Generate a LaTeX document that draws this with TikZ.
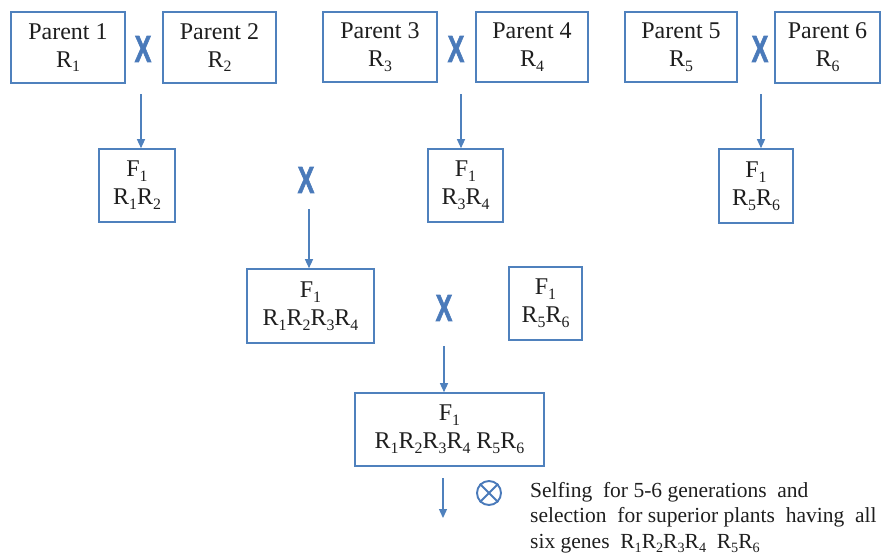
\documentclass[tikz,border=0pt]{standalone}
\usepackage{fontspec}
\setmainfont{Liberation Serif}
\newfontfamily\crossfont[FakeBold=2]{Liberation Sans Bold}
\usetikzlibrary{arrows.meta}
\definecolor{lineblue}{RGB}{79,129,189}
\definecolor{crossblue}{RGB}{74,122,186}
\definecolor{inkgray}{RGB}{30,30,30}
% lowered, reduced digit for gene and generation labels
\newcommand\sbs[1]{\raisebox{-0.2em}{\scalebox{0.66}{#1}}}
\tikzset{
  box/.style={draw=lineblue, line width=1.6pt, rectangle, align=center,
    inner sep=0pt, text=inkgray, font=\fontsize{24}{28}\selectfont},
  crossmark/.style={text=crossblue, inner sep=0pt, yscale=1.5,
    font=\fontsize{25}{25}\crossfont},
  arr/.style={draw=lineblue, line width=1.3pt,
    -{Triangle[length=9pt,width=8pt]}},
}
\begin{document}
\begin{tikzpicture}[x=1pt,y=-1pt]
\useasboundingbox (0,0) rectangle (882,557);

% parents
\node[box, minimum width=114pt, minimum height=71pt] (p1) at (68,47.5) {Parent 1\\R\sbs{1}};
\node[box, minimum width=113pt, minimum height=71pt] (p2) at (219.5,47.5) {Parent 2\\R\sbs{2}};
\node[box, minimum width=114pt, minimum height=70pt] (p3) at (380,47) {Parent 3\\R\sbs{3}};
\node[box, minimum width=112pt, minimum height=70pt] (p4) at (532,47) {Parent 4\\R\sbs{4}};
\node[box, minimum width=112pt, minimum height=70pt] (p5) at (681,47) {Parent 5\\R\sbs{5}};
\node[box, minimum width=105pt, minimum height=71pt] (p6) at (827.5,47.5) {Parent 6\\R\sbs{6}};

% crosses between parents
\node[crossmark] (x1) at (143,49) {X};
\node[crossmark] (x2) at (456,49) {X};
\node[crossmark] (x3) at (760,49) {X};

% first F1 generation
\node[box, minimum width=76pt, minimum height=73pt] (f12) at (137,185.5) {F\sbs{1}\\R\sbs{1}R\sbs{2}};
\node[box, minimum width=75pt, minimum height=73pt] (f34) at (465.5,185.5) {F\sbs{1}\\R\sbs{3}R\sbs{4}};
\node[box, minimum width=74pt, minimum height=74pt] (f56) at (756,186) {F\sbs{1}\\R\sbs{5}R\sbs{6}};
\node[crossmark] (x4) at (306,180) {X};

% second F1 generation
\node[box, minimum width=127pt, minimum height=74pt] (f1234) at (310.5,306) {F\sbs{1}\\R\sbs{1}R\sbs{2}R\sbs{3}R\sbs{4}};
\node[box, minimum width=73pt, minimum height=73pt] (f56b) at (545.5,303.5) {F\sbs{1}\\R\sbs{5}R\sbs{6}};
\node[crossmark] (x5) at (444,308) {X};

% final F1
\node[box, minimum width=189pt, minimum height=73pt] (fall) at (449.5,429.5) {F\sbs{1}\\R\sbs{1}R\sbs{2}R\sbs{3}R\sbs{4} R\sbs{5}R\sbs{6}};

% arrow start points
\coordinate (s1) at (141,94);
\coordinate (s2) at (461,94);
\coordinate (s3) at (761,94);
\coordinate (s4) at (309,209);
\coordinate (s5) at (444,346);
\coordinate (s6) at (443,478);
\coordinate (e6) at (443,518);

\draw[arr] (s1) -- (s1 |- f12.north);
\draw[arr] (s2) -- (s2 |- f34.north);
\draw[arr] (s3) -- (s3 |- f56.north);
\draw[arr] (s4) -- (s4 |- f1234.north);
\draw[arr] (s5) -- (s5 |- fall.north);
\draw[arr] (s6) -- (e6);

% selfing symbol
\node[circle, draw=crossblue, line width=1.9pt, minimum size=24pt, inner sep=0pt] (self) at (489,493) {};
\draw[crossblue, line width=1.9pt] (self.north east) -- (self.south west)
  (self.north west) -- (self.south east);

% note
\node[anchor=north west, align=left, inner sep=0pt, text=inkgray,
  font=\fontsize{21.5}{25.5}\selectfont] (note) at (530,482)
  {Selfing\ \ for 5-6 generations\ \ and\\
   selection\ \ for superior plants\ \ having\ \ all\\
   six genes\ \ R\sbs{1}R\sbs{2}R\sbs{3}R\sbs{4}\ \ R\sbs{5}R\sbs{6}};
\end{tikzpicture}
\end{document}
